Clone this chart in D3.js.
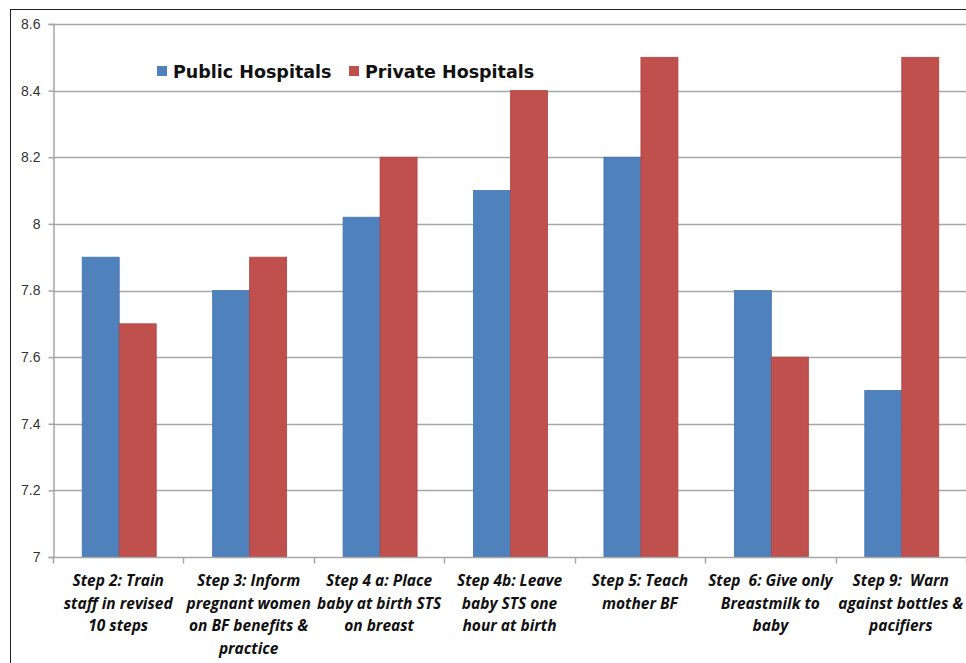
<!DOCTYPE html>
<html>
<head>
<meta charset="utf-8">
<script src="https://cdn.jsdelivr.net/npm/d3@7"></script>
<style>
  body { margin: 0; background: #fff; }
  svg { display: block; }
</style>
</head>
<body>
<svg id="chart" width="966" height="663"></svg>
<script>
// Chart data
const categories = [
    ["Step 2: Train", "staff in revised", "10 steps"],
    ["Step 3: Inform", "pregnant women", "on BF benefits &", "practice"],
    ["Step 4 a: Place", "baby at birth STS", "on breast"],
    ["Step 4b: Leave", "baby STS one", "hour at birth"],
    ["Step 5: Teach", "mother BF"],
    ["Step  6: Give only", "Breastmilk to", "baby"],
    ["Step 9:  Warn", "against bottles &", "pacifiers"]
];
const seriesNames = ["Public Hospitals", "Private Hospitals"];
const publicValues = [7.9, 7.8, 8.02, 8.1, 8.2, 7.8, 7.5];
const privateValues = [7.7, 7.9, 8.2, 8.4, 8.5, 7.6, 8.5];
const yTicks = [7, 7.2, 7.4, 7.6, 7.8, 8, 8.2, 8.4, 8.6];
const colors = ["#4F81BD", "#C0504D"];
const strokes = ["#4674ad", "#b04542"];

const svg = d3.select("#chart");
const margin = { left: 53, right: 0, top: 24, bottom: 106 };
const width = 966, height = 663;

// outer frame
svg.append("rect")
    .attr("x", 10.5).attr("y", 9.5)
    .attr("width", 970).attr("height", 670)
    .attr("fill", "none")
    .attr("stroke", "#222")
    .attr("stroke-width", 1);

const x = d3.scaleBand()
    .domain(d3.range(categories.length))
    .range([margin.left, width - margin.right])
    .paddingInner(0)
    .paddingOuter(0);

const barW = 37;
const y = d3.scaleLinear()
    .domain([7, 8.6])
    .range([height - margin.bottom, margin.top]);

// gridlines
svg.append("g")
    .selectAll("line")
    .data(yTicks.slice(1))
    .join("line")
    .attr("x1", margin.left)
    .attr("x2", width)
    .attr("y1", d => Math.round(y(d)) + 0.5)
    .attr("y2", d => Math.round(y(d)) + 0.5)
    .attr("stroke", "#a6a6a6")
    .attr("stroke-width", 1.5);

// y axis
const yAxis = svg.append("g")
    .attr("transform", `translate(${margin.left + 0.5},0)`)
    .call(d3.axisLeft(y).tickValues(yTicks).tickSize(5).tickPadding(8)
        .tickFormat(d => d3.format("")(+d.toFixed(1))));
yAxis.select(".domain").attr("stroke", "#a6a6a6").attr("stroke-width", 1.5);
yAxis.selectAll(".tick line").attr("stroke", "#a6a6a6").attr("stroke-width", 1.5);
yAxis.selectAll(".tick text")
    .attr("fill", "#333")
    .attr("font-family", "Liberation Sans, Arial, sans-serif")
    .attr("font-size", "14px");

// bars
const groups = svg.append("g")
    .selectAll("g")
    .data(categories.map((c, i) => [publicValues[i], privateValues[i]]))
    .join("g")
    .attr("transform", (d, i) => `translate(${x(i) + x.bandwidth() / 2 - barW + 1},0)`);

groups.selectAll("rect")
    .data(d => d)
    .join("rect")
    .attr("x", (d, j) => j * barW)
    .attr("y", d => y(d))
    .attr("width", barW)
    .attr("height", d => y(7) - y(d))
    .attr("fill", (d, j) => colors[j])
    .attr("stroke", (d, j) => strokes[j])
    .attr("stroke-width", 0.8);

// x axis
const xAxisY = Math.round(y(7)) + 0.5;
svg.append("line")
    .attr("x1", margin.left).attr("x2", width)
    .attr("y1", xAxisY).attr("y2", xAxisY)
    .attr("stroke", "#a6a6a6").attr("stroke-width", 1.5);
svg.append("g")
    .selectAll("line")
    .data(d3.range(categories.length + 1))
    .join("line")
    .attr("x1", i => Math.round(margin.left + i * x.bandwidth()) + 0.5)
    .attr("x2", i => Math.round(margin.left + i * x.bandwidth()) + 0.5)
    .attr("y1", xAxisY)
    .attr("y2", xAxisY + 6)
    .attr("stroke", "#a6a6a6").attr("stroke-width", 1.5);

// category labels
const labels = svg.append("g")
    .selectAll("text")
    .data(categories)
    .join("text")
    .attr("x", (d, i) => x(i) + x.bandwidth() / 2)
    .attr("y", 586)
    .attr("text-anchor", "middle")
    .attr("font-family", "Open Sans, sans-serif")
    .attr("font-style", "italic")
    .attr("font-weight", "bold")
    .attr("font-size", "15.5px")
    .attr("fill", "#111");
labels.selectAll("tspan")
    .data(d => d)
    .join("tspan")
    .attr("x", function () { return this.parentNode.getAttribute("x"); })
    .attr("dy", (d, i) => i === 0 ? 0 : 22.5)
    .attr("xml:space", "preserve")
    .style("white-space", "pre")
    .text(d => d);

// legend
const legendItems = [
    { name: seriesNames[0], color: colors[0], x: 157 },
    { name: seriesNames[1], color: colors[1], x: 349 }
];
const legend = svg.append("g")
    .selectAll("g")
    .data(legendItems)
    .join("g")
    .attr("transform", d => `translate(${d.x},66)`);
legend.append("rect")
    .attr("width", 10).attr("height", 10)
    .attr("fill", d => d.color);
legend.append("text")
    .attr("x", 16).attr("y", 12)
    .attr("font-family", "DejaVu Sans, sans-serif")
    .attr("font-weight", "bold")
    .attr("font-size", "17.5px")
    .attr("fill", "#111")
    .text(d => d.name);
</script>
</body>
</html>
